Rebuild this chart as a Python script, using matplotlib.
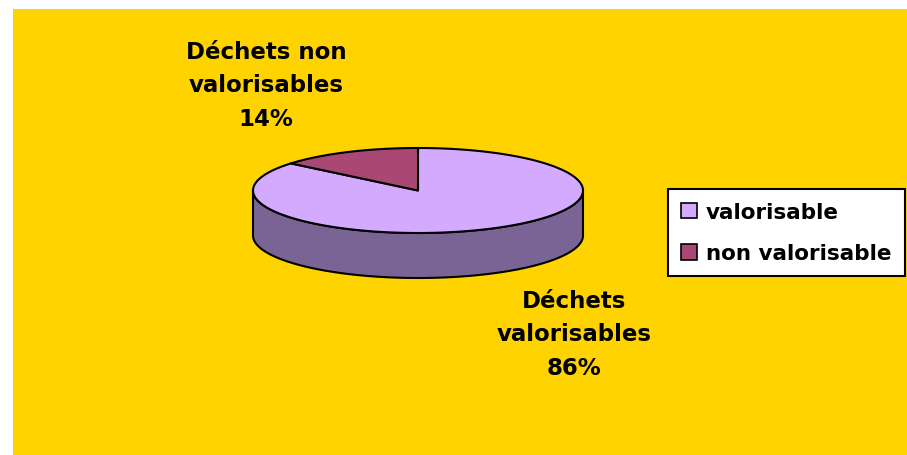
import numpy as np
import matplotlib.pyplot as plt
from matplotlib.patches import Polygon, Rectangle, Patch

labels = ["valorisable", "non valorisable"]
values = [86, 14]
slice_text = ["Déchets\nvalorisables\n86%", "Déchets non\nvalorisables\n14%"]
colors = ["#D4AAFF", "#A94874"]
side_colors = ["#7A6496", "#6A2D48"]

W, H = 907, 456
cx, cy, rx, ry, depth = 418, 191.5, 165, 42.5, 45

plt.rcParams['font.family'] = ['DejaVu Sans']

fig = plt.figure(figsize=(W / 100, H / 100), dpi=100)
ax = fig.add_axes([0, 0, 1, 1])
ax.set_xlim(0, W)
ax.set_ylim(H, 0)
ax.axis('off')

# background panel
ax.add_patch(Rectangle((13, 10), W - 13, H - 10, facecolor="#FFD300", edgecolor="none"))


def ellipse_pts(a0, a1, dy=0, n=200):
    t = np.radians(np.linspace(a0, a1, n))
    return np.column_stack([cx + rx * np.cos(t), cy + dy - ry * np.sin(t)])


# slice angles, counterclockwise from 12 o'clock (valorisable goes clockwise)
fracs = np.array(values) / sum(values)
starts = [90 - 360 * fracs[0], 90]
ends = [90, 90 + 360 * fracs[1]]

# side walls (only the front half, 180..360, is visible)
for a0, a1, sc in zip(starts, ends, side_colors):
    for lo, hi in [(a0, a1), (a0 + 360, a1 + 360)]:
        s0, s1 = max(lo, 180), min(hi, 360)
        if s1 <= s0:
            continue
        top = ellipse_pts(s0, s1)
        bot = ellipse_pts(s1, s0, dy=depth)
        ax.add_patch(Polygon(np.vstack([top, bot]), closed=True, facecolor=sc,
                             edgecolor="black", lw=1.5, joinstyle="round"))

# top faces
for a0, a1, c in zip(starts, ends, colors):
    arc = ellipse_pts(a0, a1)
    pts = np.vstack([[cx, cy], arc])
    ax.add_patch(Polygon(pts, closed=True, facecolor=c, edgecolor="black",
                         lw=1.5, joinstyle="round"))

# slice labels
ax.text(574, 335, slice_text[0], ha="center", va="center", fontsize=16.5,
        fontweight="bold", linespacing=1.6)
ax.text(266, 86, slice_text[1], ha="center", va="center", fontsize=16.5,
        fontweight="bold", linespacing=1.6)

handles = [Patch(facecolor=c, edgecolor="black", lw=1.2) for c in colors]
leg = ax.legend(handles, labels, loc="upper left", mode="expand",
                bbox_to_anchor=(668 / W, 1 - 277 / H, 237 / W, 87 / H),
                bbox_transform=fig.transFigure,
                borderaxespad=0, fancybox=False, framealpha=1, edgecolor="black",
                handlelength=0.75, handleheight=0.75, handletextpad=0.4,
                labelspacing=1.0, borderpad=0.6,
                prop={"size": 15.5, "weight": "bold"})
leg.get_frame().set_linewidth(1.5)

fig.savefig("out.png", dpi=100)
